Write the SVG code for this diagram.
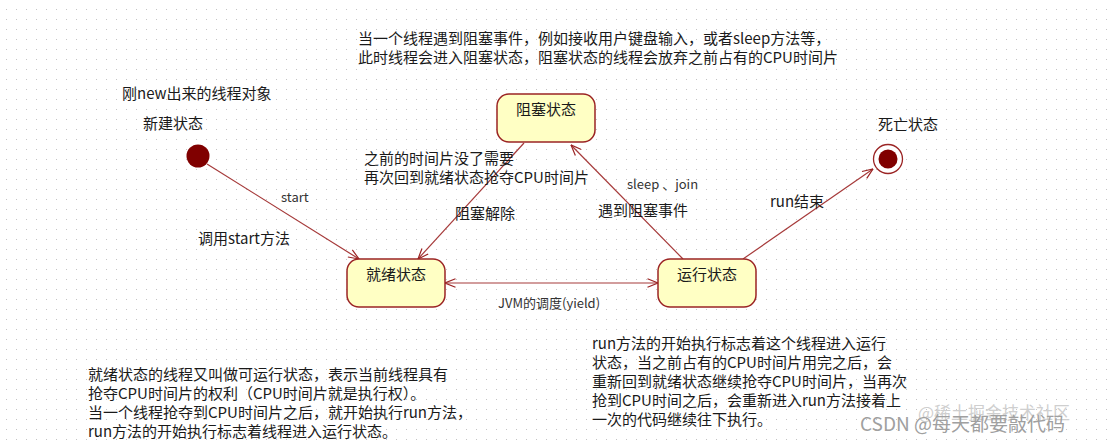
<svg xmlns="http://www.w3.org/2000/svg" width="1113" height="443" viewBox="0 0 1113 443">
<defs>
<pattern id="grid" x="6" y="9" width="10" height="10" patternUnits="userSpaceOnUse">
<rect x="0" y="0" width="1" height="1" fill="#c4c4c4"/>
</pattern>
<marker id="arr" viewBox="0 0 12 10" refX="11.5" refY="5" markerWidth="12" markerHeight="10" orient="auto-start-reverse" markerUnits="userSpaceOnUse">
<path d="M1,0.8 L11.5,5 L1,9.2" fill="none" stroke="#9b2424" stroke-width="1.2"/>
</marker>
<style>
text{font-family:"Noto Sans CJK SC","Noto Sans",sans-serif;fill:#1a1a1a;font-size:14px}
.lbl{font-size:15px}
.sm{font-size:13px;fill:#333}
.box{fill:#ffffc4;stroke:#9b2424;stroke-width:1.5}
.conn{fill:none;stroke:#a63a3a;stroke-width:1.2}
.wm{font-size:19px;fill:#a0a0a0}
.wm2{font-size:17px;fill:#cfcfcf}
</style>
</defs>
<rect width="1113" height="443" fill="#ffffff"/>
<rect width="1113" height="443" fill="url(#grid)"/>

<g id="connectors">
<line class="conn" x1="207" y1="164" x2="359" y2="259" marker-end="url(#arr)"/>
<line class="conn" x1="524" y1="143" x2="418" y2="259" marker-end="url(#arr)"/>
<line class="conn" x1="683" y1="259" x2="571" y2="145" marker-end="url(#arr)"/>
<line class="conn" x1="743" y1="259" x2="873" y2="169" marker-end="url(#arr)"/>
<line class="conn" x1="445" y1="283" x2="658" y2="283" marker-start="url(#arr)" marker-end="url(#arr)"/>
</g>

<g id="node-initial">
<circle cx="198" cy="156" r="11.5" fill="#800000"/>
<text x="143" y="129" class="lbl">新建状态</text>
<text x="122" y="99" class="lbl">刚new出来的线程对象</text>
</g>

<g id="node-blocked">
<rect class="box" x="497" y="94" width="98" height="48" rx="12"/>
<text x="546" y="115" class="lbl" text-anchor="middle">阻塞状态</text>
</g>

<g id="node-ready">
<rect class="box" x="347" y="259" width="98" height="48" rx="12"/>
<text x="396" y="280" class="lbl" text-anchor="middle">就绪状态</text>
</g>

<g id="node-running">
<rect class="box" x="658" y="259" width="98" height="48" rx="12"/>
<text x="707" y="280" class="lbl" text-anchor="middle">运行状态</text>
</g>

<g id="node-final">
<circle cx="888" cy="159" r="14.5" fill="#ffffff" stroke="#9b2424" stroke-width="1.3"/>
<circle cx="888" cy="159" r="9.5" fill="#800000"/>
<text x="878" y="130" class="lbl">死亡状态</text>
</g>

<g id="labels">
<text x="358" y="44" class="lbl">当一个线程遇到阻塞事件，例如接收用户键盘输入，或者sleep方法等，</text>
<text x="358" y="63" class="lbl">此时线程会进入阻塞状态，阻塞状态的线程会放弃之前占有的CPU时间片</text>
<text x="364" y="164" class="lbl">之前的时间片没了需要</text>
<text x="364" y="183" class="lbl">再次回到就绪状态抢夺CPU时间片</text>
<text x="455" y="219" class="lbl">阻塞解除</text>
<text x="627" y="189" class="sm">sleep 、join</text>
<text x="598" y="216" class="lbl">遇到阻塞事件</text>
<text x="281" y="202" class="sm">start</text>
<text x="198" y="244" class="lbl">调用start方法</text>
<text x="770" y="207" class="lbl">run结束</text>
<text x="498" y="308" class="sm">JVM的调度(yield)</text>
</g>

<g id="note-ready">
<text x="88" y="380" class="lbl">就绪状态的线程又叫做可运行状态，表示当前线程具有</text>
<text x="88" y="399" class="lbl">抢夺CPU时间片的权利（CPU时间片就是执行权）。</text>
<text x="88" y="418" class="lbl">当一个线程抢夺到CPU时间片之后，就开始执行run方法，</text>
<text x="88" y="437" class="lbl">run方法的开始执行标志着线程进入运行状态。</text>
</g>

<g id="note-running">
<text x="592" y="349" class="lbl">run方法的开始执行标志着这个线程进入运行</text>
<text x="592" y="368" class="lbl">状态，当之前占有的CPU时间片用完之后，会</text>
<text x="592" y="387" class="lbl">重新回到就绪状态继续抢夺CPU时间片，当再次</text>
<text x="592" y="406" class="lbl">抢到CPU时间之后，会重新进入run方法接着上</text>
<text x="592" y="425" class="lbl">一次的代码继续往下执行。</text>
</g>

<g id="watermark">
<text x="918" y="419" class="wm2">@稀土掘金技术社区</text>
<text x="860" y="431" class="wm">CSDN @每天都要敲代码</text>
</g>
</svg>
